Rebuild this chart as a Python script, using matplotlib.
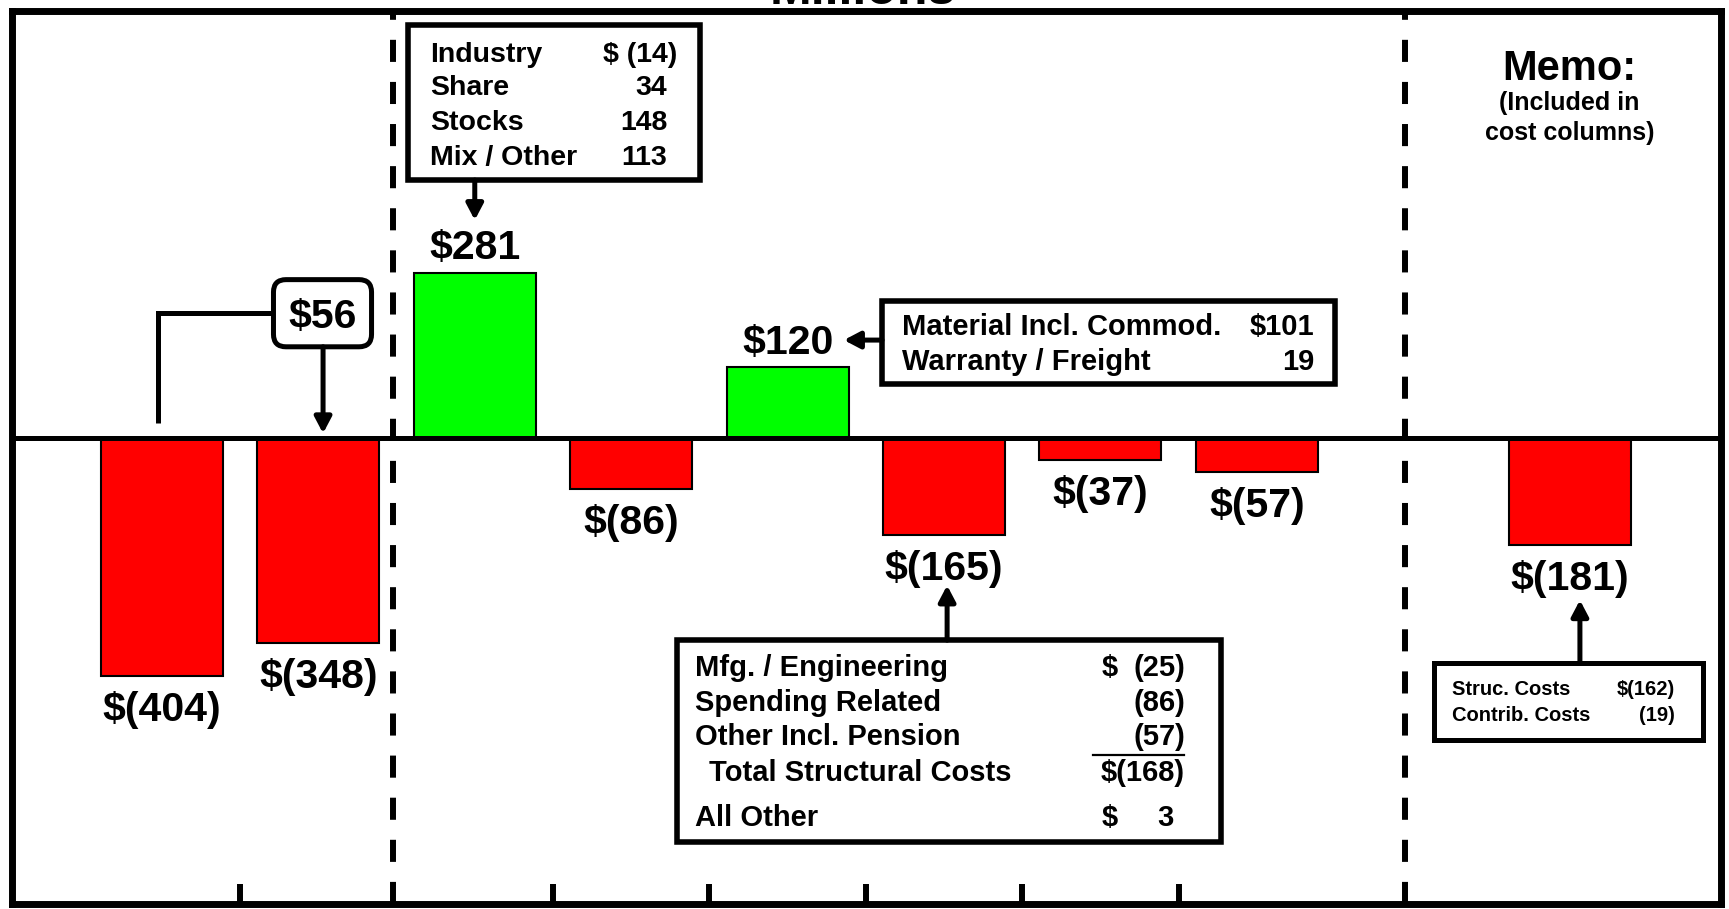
import matplotlib.pyplot as plt
from matplotlib.patches import Rectangle, FancyBboxPatch

plt.rcParams['font.family'] = ['Liberation Sans', 'DejaVu Sans']
plt.rcParams['font.weight'] = 'bold'
plt.rcParams['text.parse_math'] = False

# bridge columns in $ millions; memo column sits apart at slot 9
positions = [0, 1, 2, 3, 4, 5, 6, 7, 9]
values = [-404, -348, 281, -86, 120, -165, -37, -57, -181]
bridge_change = 56

volume_items = ["Industry", "Share", "Stocks", "Mix / Other"]
volume_values = ["$ (14)", "34", "148", "113"]

material_items = ["Material Incl. Commod.", "Warranty / Freight"]
material_values = ["$101", "19"]

cost_items = ["Mfg. / Engineering", "Spending Related", "Other Incl. Pension",
              "Total Structural Costs", "All Other"]
cost_values = ["(25)", "(86)", "(57)", "$(168)", "3"]

memo_items = ["Struc. Costs", "Contrib. Costs"]
memo_values = ["$(162)", "(19)"]


def money(v):
    return f"${v}" if v >= 0 else f"$({-v})"


W, H = 1729, 909
fig = plt.figure(figsize=(W / 100, H / 100), dpi=100)
ax = fig.add_axes([11.5 / W, 5.5 / H, 1709.5 / W, 892.5 / H])
xlim = (-0.962, 9.968)
ylim = (-790, 725)
ax.set_xlim(*xlim)
ax.set_ylim(*ylim)

# aspect between data units so rounded corners stay round
px_x = 1709.5 / (xlim[1] - xlim[0])
px_y = 892.5 / (ylim[1] - ylim[0])
aspect = px_x / px_y

colors = ['#00ff00' if v > 0 else '#ff0000' for v in values]
ax.bar(positions, values, width=0.78, color=colors, edgecolor='black',
       linewidth=1.5, zorder=2)

for x, v in zip(positions, values):
    off = 9.5 if v > 0 else -32.5
    ax.annotate(money(v), (x, v), xytext=(0, off), textcoords='offset points',
                ha='center', va='baseline', fontsize=29.5, zorder=5)

ax.axhline(0, color='black', lw=3.6, zorder=3)
for x in [1.477, 7.95]:
    ax.axvline(x, color='black', lw=4.3, ls=(0, (3.7, 3.35)), zorder=3)

for s in ax.spines.values():
    s.set_linewidth(5)
ax.set_yticks([])
ax.set_xticks([0.5, 2.5, 3.5, 4.5, 5.5, 6.5])
ax.set_xticklabels([])
ax.tick_params(axis='x', direction='in', length=14.5, width=4.3)


def box(x0, x1, y0, y1, lw=4):
    ax.add_patch(Rectangle((x0, y0), x1 - x0, y1 - y0, fc='white', ec='black',
                           lw=lw, zorder=4))


def arrow(x0, y0, x1, y1):
    ax.annotate('', xy=(x1, y1), xytext=(x0, y0), zorder=4,
                arrowprops=dict(arrowstyle='-|>,head_length=0.95,head_width=0.5',
                                color='black', lw=3.6, shrinkA=0, shrinkB=0,
                                mutation_scale=10))


def rows(x_text, x_val, baselines, items, vals, size, hang=7):
    for y, it, v in zip(baselines, items, vals):
        ax.text(x_text, y, it, ha='left', va='baseline', fontsize=size, zorder=5)
        dx = 0 if v.endswith(')') else -hang
        ax.annotate(v, (x_val, y), xytext=(dx, 0), textcoords='offset points',
                    ha='right', va='baseline', fontsize=size, zorder=5)


# volume / mix breakdown
box(1.576, 3.44, 438, 701)
rows(1.714, 3.293, [639, 582, 523, 463.5], volume_items, volume_values, 20.5)
arrow(2.0, 438, 2.0, 370)

# bridge change between first two columns
ax.plot([0.713, -0.026, -0.026], [212, 212, 25], color='black', lw=3.6,
        solid_joinstyle='miter', solid_capstyle='butt', zorder=4)
ax.add_patch(FancyBboxPatch((0.713, 155), 0.627, 114,
                            boxstyle='round,pad=0,rounding_size=0.08',
                            mutation_aspect=aspect, fc='white', ec='black',
                            lw=3.6, zorder=4))
ax.text(1.026, 187, money(bridge_change), ha='center', va='baseline',
        fontsize=29.5, zorder=5)
arrow(1.03, 155, 1.03, 8)

# material breakdown
box(4.604, 7.50, 91.7, 232.6)
rows(4.731, 7.37, [175, 115.4], material_items, material_values, 21, hang=0)
arrow(4.604, 166.4, 4.36, 166.4)

# cost breakdown
box(3.293, 6.77, -686, -343)
cost_base = [-404, -463, -521, -582, -658]
for i, (y, it, v) in enumerate(zip(cost_base, cost_items, cost_values)):
    xt = 3.497 if it.startswith('Total') else 3.408
    ax.text(xt, y, it, ha='left', va='baseline', fontsize=21, zorder=5)
    dx = 0 if v.endswith(')') else -8
    ax.annotate(v, (6.541, y), xytext=(dx, 0), textcoords='offset points',
                ha='right', va='baseline', fontsize=21, zorder=5)
    if i in (0, 4):
        ax.text(6.01, y, '$', ha='left', va='baseline', fontsize=21, zorder=5)
ax.plot([5.953, 6.535], [-538, -538], color='black', lw=1.6, zorder=5)
arrow(5.02, -343, 5.02, -250)

# memo column
ax.text(9.0, 608, "Memo:", ha='center', va='baseline', fontsize=30, zorder=5)
ax.text(9.0, 557, "(Included in", ha='center', va='baseline', fontsize=18, zorder=5)
ax.text(9.0, 506, "cost columns)", ha='center', va='baseline', fontsize=18, zorder=5)
box(8.136, 9.85, -512, -381, lw=3.6)
rows(8.25, 9.674, [-436, -480], memo_items, memo_values, 14.5)
arrow(9.066, -381, 9.066, -275)

fig.text(863 / W, 1 - 4 / H, "Millions", ha='center', va='baseline',
         fontsize=36, fontweight='bold')

fig.savefig('out.png', dpi=100)
